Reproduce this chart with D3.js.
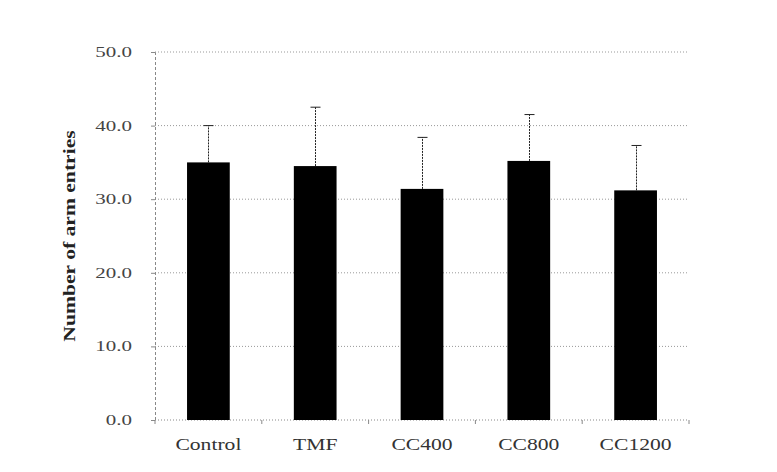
<!DOCTYPE html>
<html>
<head>
<meta charset="utf-8">
<script src="https://cdn.jsdelivr.net/npm/d3@7"></script>
<style>
  body { margin: 0; background: #fff; }
  text { font-family: "Liberation Serif", "Times New Roman", serif; }
</style>
</head>
<body>
<div id="chart"></div>
<script>
// values
const groups = ["Control", "TMF", "CC400", "CC800", "CC1200"];
const means = [35.0, 34.5, 31.4, 35.2, 31.2];
const sds = [5.0, 8.0, 7.0, 6.3, 6.1];
const yTicks = [0, 10, 20, 30, 40, 50];

const width = 777, height = 472;
const margin = { top: 52, right: 88, bottom: 52, left: 155 };
// the original lettering is stretched sideways
const stretch = 1.35;

const svg = d3.select("#chart").append("svg")
    .attr("width", width)
    .attr("height", height);

const x = d3.scaleBand()
    .domain(groups)
    .range([margin.left, width - margin.right])
    .paddingInner(0.6)
    .paddingOuter(0.3);

const y = d3.scaleLinear()
    .domain([0, 50])
    .range([height - margin.bottom, margin.top]);

// grid lines
svg.append("g")
    .selectAll("line")
    .data(yTicks.slice(1))
    .enter()
    .append("line")
    .attr("x1", margin.left)
    .attr("x2", width - margin.right)
    .attr("y1", d => y(d))
    .attr("y2", d => y(d))
    .attr("stroke", "#999")
    .attr("stroke-width", 1)
    .attr("stroke-dasharray", "1,2");

// y axis
const yAxis = svg.append("g")
    .attr("transform", `translate(${margin.left},0)`)
    .call(d3.axisLeft(y).tickValues(yTicks).tickFormat("").tickSize(4));
yAxis.select(".domain").attr("stroke", "#888").attr("stroke-dasharray", "3,2");
yAxis.selectAll(".tick line").attr("stroke", "#888");

svg.append("g")
    .selectAll("text")
    .data(yTicks)
    .enter()
    .append("text")
    .attr("transform", d => `translate(132,${y(d) + 5}) scale(1.5,1)`)
    .attr("text-anchor", "end")
    .attr("font-size", 14)
    .attr("fill", "#444")
    .text(d3.format(".1f"));

// x axis
const step = (width - margin.right - margin.left) / groups.length;
const bounds = d3.range(groups.length + 1).map(i => margin.left + i * step);
const xAxis = svg.append("g");
xAxis.append("line")
    .attr("x1", margin.left)
    .attr("x2", width - margin.right)
    .attr("y1", y(0))
    .attr("y2", y(0))
    .attr("stroke", "#888")
    .attr("stroke-dasharray", "1,2");
xAxis.selectAll(".xt")
    .data(bounds)
    .enter()
    .append("line")
    .attr("x1", d => d)
    .attr("x2", d => d)
    .attr("y1", y(0))
    .attr("y2", y(0) + 4)
    .attr("stroke", "#888");

// bars
svg.append("g")
    .selectAll("rect")
    .data(groups)
    .enter()
    .append("rect")
    .attr("x", d => x(d))
    .attr("y", (d, i) => y(means[i]))
    .attr("width", x.bandwidth())
    .attr("height", (d, i) => y(0) - y(means[i]))
    .attr("fill", "#000");

// upper error bars
const err = svg.append("g").attr("stroke", "#222").attr("stroke-width", 1);
groups.forEach((g, i) => {
    const cx = Math.round(x(g) + x.bandwidth() / 2) + 0.5;
    err.append("line")
        .attr("x1", cx).attr("x2", cx)
        .attr("y1", y(means[i])).attr("y2", y(means[i] + sds[i]))
        .attr("stroke-dasharray", "2,1");
    err.append("line")
        .attr("x1", cx - 5).attr("x2", cx + 5)
        .attr("y1", y(means[i] + sds[i])).attr("y2", y(means[i] + sds[i]));
});

// category labels
svg.append("g")
    .selectAll("text")
    .data(groups)
    .enter()
    .append("text")
    .attr("transform", d => `translate(${x(d) + x.bandwidth() / 2},${y(0) + 30}) scale(${stretch},1)`)
    .attr("text-anchor", "middle")
    .attr("font-size", 16)
    .attr("fill", "#333")
    .text(d => d);

// y title
svg.append("text")
    .attr("transform", `translate(75,${(y(0) + y(50)) / 2}) rotate(-90) scale(${stretch},1)`)
    .attr("text-anchor", "middle")
    .attr("font-size", 16)
    .attr("font-weight", "bold")
    .attr("fill", "#222")
    .text("Number of arm entries");
</script>
</body>
</html>
